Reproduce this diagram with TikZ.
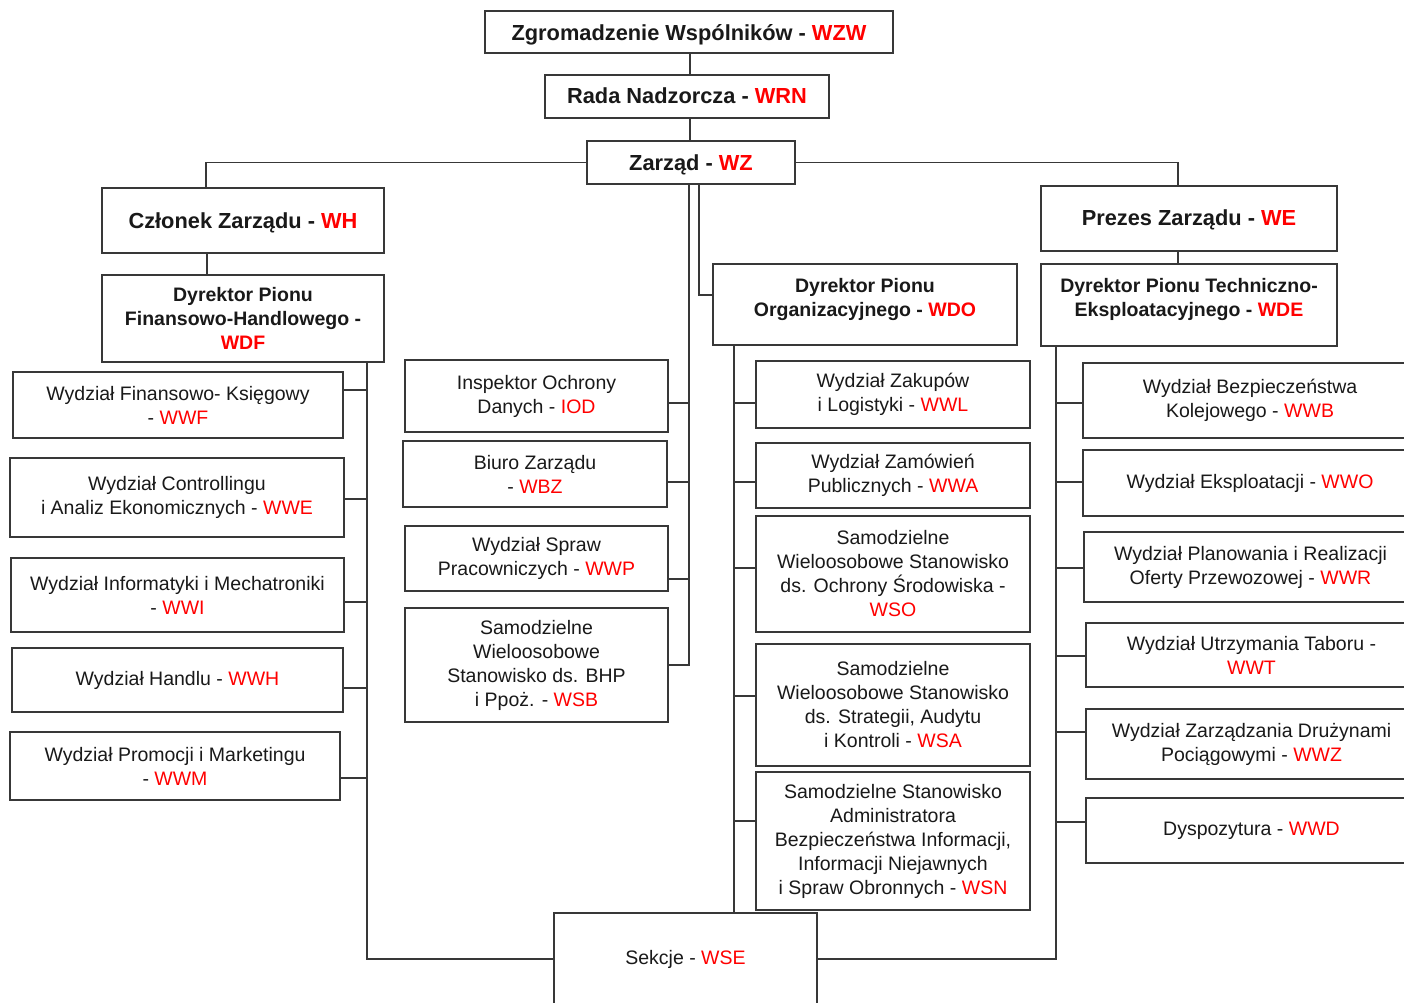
\documentclass[tikz,border=0pt]{standalone}
\usepackage{fontspec}
\setmainfont{Liberation Sans}
\newcommand\redc[1]{\textcolor{red}{#1}}
% box by corners: [style]{name}{x1}{y1}{x2}{y2}{text}
\newcommand\bx[7][]{\node[box,#1,minimum width={(#5-#3)*1pt},minimum height={(#6-#4)*1pt}] (#2) at ({(#3+#5)/2},{(#4+#6)/2}) {#7};}
% branch from a box's east side to a spine, at height y
\newcommand\brE[3]{\coordinate (tmpy) at (0,#2); \draw[conn] (#1.east |- tmpy) -- (#3 |- tmpy);}
% branch from a spine to a box's west side, at height y
\newcommand\brW[3]{\coordinate (tmpy) at (0,#2); \draw[conn] (#3 |- tmpy) -- (#1.west |- tmpy);}
\newcommand\upT[2]{\raisebox{#1}[\height][\depth]{\begin{tabular}{@{}c@{}}#2\end{tabular}}}
\begin{document}
\begin{tikzpicture}[x=1pt,y=-1pt,
  box/.style={draw=black!78,line width=1.6pt,fill=white,rectangle,align=center,inner sep=2pt,
    font=\fontsize{19.5}{24}\selectfont,text=black!90},
  top/.style={font=\fontsize{21.8}{26}\selectfont\bfseries},
  dyr/.style={font=\fontsize{19.5}{24}\selectfont\bfseries},
  conn/.style={draw=black!78,line width=1.4pt}]
\path[use as bounding box] (0,0) rectangle (1404,1002);
\clip (0,0) rectangle (1404,1002);
\fill[white] (0,0) rectangle (1404,1002);

% spine / helper coordinates
\coordinate (sL) at (367,0);
\coordinate (sC) at (689,0);
\coordinate (xO) at (699,0);
\coordinate (sO) at (734,0);
\coordinate (sR) at (1056,0);
\coordinate (xT) at (690,0);
\coordinate (xWH) at (206,0);
\coordinate (xWHb) at (207,0);
\coordinate (xWE) at (1178,0);
\coordinate (yO) at (0,295);

% top
\bx[top]{WZW}{485}{11}{893}{53}{\upT{-3pt}{Zgromadzenie Wspólników - \redc{WZW}}}
\bx[top]{WRN}{545}{75}{829}{118}{\upT{-2pt}{Rada Nadzorcza - \redc{WRN}}}
\bx[top]{WZ}{587}{141}{795}{184}{\upT{-3pt}{Zarząd - \redc{WZ}}}
\bx[top]{WH}{102}{188}{384}{253}{\upT{-3pt}{Członek Zarządu - \redc{WH}}}
\bx[dyr]{WDF}{102}{275}{384}{362}{\upT{-2pt}{Dyrektor Pionu\\Finansowo-Handlowego -\\\redc{WDF}}}
\bx[top]{WE}{1041}{186}{1337}{251}{\upT{-2pt}{Prezes Zarządu - \redc{WE}}}
\bx[dyr]{WDE}{1041}{264}{1337}{346}{\upT{5pt}{Dyrektor Pionu Techniczno-\\Eksploatacyjnego - \redc{WDE}}}
\bx[dyr]{WDO}{713}{264}{1017}{345}{\upT{5pt}{Dyrektor Pionu\\Organizacyjnego - \redc{WDO}}}

% left column
\bx{WWF}{13}{372}{343}{438}{Wydział Finansowo- Księgowy\\- \redc{WWF}}
\bx{WWE}{10}{458}{344}{537}{Wydział Controllingu\\i Analiz Ekonomicznych - \redc{WWE}}
\bx{WWI}{11}{558}{344}{632}{Wydział Informatyki i Mechatroniki\\- \redc{WWI}}
\bx{WWH}{12}{648}{343}{712}{Wydział Handlu - \redc{WWH}}
\bx{WWM}{10}{732}{340}{800}{Wydział Promocji i Marketingu\\- \redc{WWM}}

% centre column
\bx{IOD}{405}{360}{668}{432}{Inspektor Ochrony\\Danych - \redc{IOD}}
\bx{WBZ}{403}{441}{667}{507}{Biuro Zarządu\\- \redc{WBZ}}
\bx{WWP}{405}{526}{668}{591}{Wydział Spraw\\Pracowniczych - \redc{WWP}}
\bx{WSB}{405}{608}{668}{722}{Samodzielne\\Wieloosobowe\\Stanowisko ds. BHP\\i Ppoż. - \redc{WSB}}

% organisational column
\bx{WWL}{756}{361}{1030}{428}{Wydział Zakupów\\i Logistyki - \redc{WWL}}
\bx{WWA}{756}{443}{1030}{508}{Wydział Zamówień\\Publicznych - \redc{WWA}}
\bx{WSO}{756}{516}{1030}{632}{Samodzielne\\Wieloosobowe Stanowisko\\ds. Ochrony Środowiska -\\\redc{WSO}}
\bx{WSA}{756}{644}{1030}{766}{Samodzielne\\Wieloosobowe Stanowisko\\ds. Strategii, Audytu\\i Kontroli - \redc{WSA}}
\bx{WSN}{756}{772}{1030}{910}{Samodzielne Stanowisko\\Administratora\\Bezpieczeństwa Informacji,\\Informacji Niejawnych\\i Spraw Obronnych - \redc{WSN}}

% technical column
\bx{WWB}{1083}{363}{1417}{438}{Wydział Bezpieczeństwa\\Kolejowego - \redc{WWB}}
\bx{WWO}{1083}{450}{1417}{516}{Wydział Eksploatacji - \redc{WWO}}
\bx{WWR}{1084}{532}{1417}{602}{Wydział Planowania i Realizacji\\Oferty Przewozowej - \redc{WWR}}
\bx{WWT}{1086}{623}{1417}{687}{Wydział Utrzymania Taboru -\\\redc{WWT}}
\bx{WWZ}{1086}{709}{1417}{779}{Wydział Zarządzania Drużynami\\Pociągowymi - \redc{WWZ}}
\bx{WWD}{1086}{798}{1417}{863}{Dyspozytura - \redc{WWD}}

% sections
\bx{WSE}{554}{913}{817}{1005}{Sekcje - \redc{WSE}}

% top connectors
\draw[conn] (WZW.south -| xT) -- (WRN.north -| xT);
\draw[conn] (WRN.south -| xT) -- (WZ.north -| xT);
\draw[conn] (WZ.west) -| (xWH |- WH.north);
\draw[conn] (WH.south -| xWHb) -- (WDF.north -| xWHb);
\draw[conn] (WZ.east) -| (xWE |- WE.north);
\draw[conn] (WE.south -| xWE) -- (WDE.north -| xWE);
\draw[conn] (WZ.south -| xO) |- (WDO.west |- yO);

% spines
\coordinate (yC) at (0,665);
\draw[conn] (WZ.south -| sC) |- (WSB.east |- yC);
\draw[conn] (WDF.south -| sL) |- (WSE.west);
\draw[conn] (WDO.south -| sO) -- (WSE.north -| sO);
\draw[conn] (WDE.south -| sR) |- (WSE.east);

% branches left
\brE{WWF}{390}{sL}
\brE{WWE}{499}{sL}
\brE{WWI}{602}{sL}
\brE{WWH}{688}{sL}
\brE{WWM}{778}{sL}
% branches centre
\brE{IOD}{403}{sC}
\brE{WBZ}{482}{sC}
\brE{WWP}{579}{sC}
% branches organisational
\brW{WWL}{403}{sO}
\brW{WWA}{482}{sO}
\brW{WSO}{568}{sO}
\brW{WSA}{696}{sO}
\brW{WSN}{821}{sO}
% branches technical
\brW{WWB}{403}{sR}
\brW{WWO}{482}{sR}
\brW{WWR}{568}{sR}
\brW{WWT}{656}{sR}
\brW{WWZ}{732}{sR}
\brW{WWD}{822}{sR}
\end{tikzpicture}
\end{document}
